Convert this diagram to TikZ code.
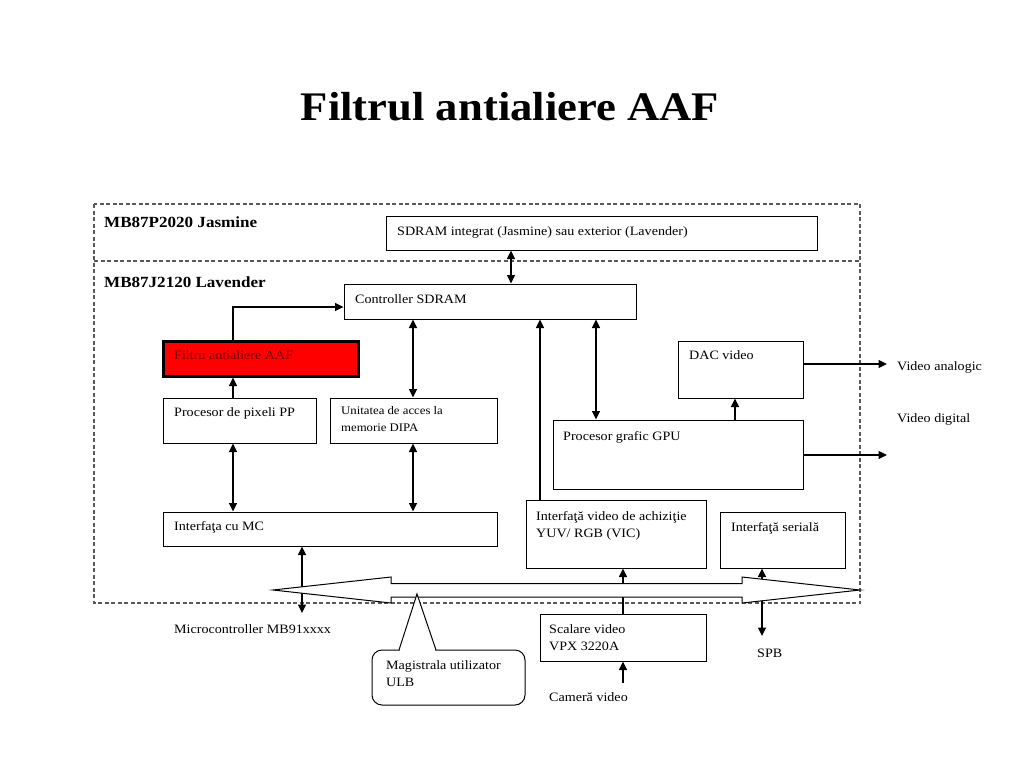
\documentclass[tikz,border=0pt]{standalone}
\usepackage{fontspec}
\setmainfont{Liberation Serif}[FakeStretch=1.1]
\usetikzlibrary{arrows.meta,fit}
\begin{document}
\begin{tikzpicture}[x=1pt,y=-1pt,
  blk/.style={draw, line width=1pt, inner sep=0pt, fill=white},
  lbl/.style={anchor=north west, inner sep=0pt, font=\fontsize{12.8}{17}\selectfont, align=left},
  lbls/.style={anchor=north west, inner sep=0pt, font=\fontsize{11.6}{17}\selectfont, align=left},
  hdr/.style={anchor=base west, inner sep=0pt, font=\fontsize{15.5}{18}\selectfont\bfseries},
  tipa/.tip={Triangle[length=8.5pt,width=8pt]},
  ar/.style={line width=1.4pt, -tipa},
  dar/.style={line width=1.4pt, tipa-tipa},
  zone/.style={draw=black!65, line width=1.2pt, dash pattern=on 4pt off 2.5pt}]
\useasboundingbox (0,0) rectangle (1024,768);

% title
\node[anchor=base, inner sep=0pt, font=\fontsize{40.6}{44}\selectfont\bfseries] (title) at (510,120) {Filtrul antialiere AAF};

% zones
\draw[zone] (94,204) rectangle (860,603);
\draw[zone] (94,261) -- (860,261);
\node[hdr] (jas) at (104,227) {MB87P2020 Jasmine};
\node[hdr] (lav) at (104,287) {MB87J2120 Lavender};

% blocks
\node[blk, fit={(386,216) (817,250)}] (sdram) {};
\node[blk, fit={(344,284) (636,319)}] (ctrl) {};
\node[draw, line width=3pt, inner sep=0pt, fill=red, fit={(163,341) (358,376)}] (aaf) {};
\node[blk, fit={(163,398) (316,443)}] (pp) {};
\node[blk, fit={(330,398) (497,443)}] (dipa) {};
\node[blk, fit={(163,512) (497,546)}] (mc) {};
\node[blk, fit={(678,341) (803,398)}] (dac) {};
\node[blk, fit={(553,420) (803,489)}] (gpu) {};
\node[blk, fit={(526,500) (706,568)}] (vic) {};
\node[blk, fit={(720,512) (845,568)}] (ser) {};
\node[blk, fit={(540,614) (706,661)}] (scal) {};

% block texts
\node[lbl] (tsdram) at (397,223) {\strut SDRAM integrat (Jasmine) sau exterior (Lavender)};
\node[lbl] (tctrl) at (355,291) {\strut Controller SDRAM};
\node[lbl, text={rgb,255:red,110;green,0;blue,0}] (taaf) at (174,347) {\strut Filtru antialiere AAF};
\node[lbl] (tpp) at (174,404) {\strut Procesor de pixeli PP};
\node[lbls] (tdipa) at (341,402) {\strut Unitatea de acces la\\memorie DIPA};
\node[lbl] (tmc) at (174,518) {\strut Interfaţa cu MC};
\node[lbl] (tdac) at (689,347) {\strut DAC video};
\node[lbl] (tgpu) at (563,428) {\strut Procesor grafic GPU};
\node[lbl] (tvic) at (536,508) {\strut Interfaţă video de achiziţie\\YUV/ RGB (VIC)};
\node[lbl] (tser) at (731,519) {\strut Interfaţă serială};
\node[lbl] (tscal) at (549,621) {\strut Scalare video\\VPX 3220A};

% free texts
\node[lbl] (mcu) at (174,621) {\strut Microcontroller MB91xxxx};
\node[lbl] (va) at (897,358) {\strut Video analogic};
\node[lbl] (vd) at (897,410) {\strut Video digital};
\node[lbl] (spb) at (757,645) {\strut SPB};
\node[lbl] (cam) at (549,689) {\strut Cameră video};

% column / row helpers
\coordinate (cS) at (511,0);
\coordinate (cA) at (233,0);
\coordinate (cB) at (413,0);
\coordinate (cC) at (540,0);
\coordinate (cD) at (596,0);
\coordinate (cE) at (735,0);
\coordinate (cF) at (302,0);
\coordinate (cG) at (623,0);
\coordinate (cH) at (762,0);
\coordinate (r307) at (0,307);
\coordinate (r364) at (0,364);
\coordinate (r455) at (0,455);
\coordinate (mcEnd) at (302,613);
\coordinate (vaEnd) at (887,364);
\coordinate (vdEnd) at (887,455);
\coordinate (camStart) at (623,683);
\coordinate (spbEnd) at (762,636);

% connectors
\draw[dar] (sdram.south -| cS) -- (ctrl.north -| cS);
\draw[ar] (aaf.north -| cA) |- (ctrl.west |- r307);
\draw[ar] (pp.north -| cA) -- (aaf.south -| cA);
\draw[dar] (ctrl.south -| cB) -- (dipa.north -| cB);
\draw[dar] (pp.south -| cA) -- (mc.north -| cA);
\draw[dar] (dipa.south -| cB) -- (mc.north -| cB);
\draw[dar] (mc.south -| cF) -- (mcEnd);
\draw[ar] (vic.north -| cC) -- (ctrl.south -| cC);
\draw[dar] (ctrl.south -| cD) -- (gpu.north -| cD);
\draw[ar] (gpu.north -| cE) -- (dac.south -| cE);
\draw[ar] (dac.east |- r364) -- (vaEnd);
\draw[ar] (gpu.east |- r455) -- (vdEnd);
\draw[ar] (scal.north -| cG) -- (vic.south -| cG);
\draw[ar] (camStart) -- (scal.south -| cG);
\draw[dar] (ser.south -| cH) -- (spbEnd);

% bus (double block arrow)
\draw[line width=1pt, fill=white] (273,590) -- (391,577) -- (391,583.5) -- (742,583.5) -- (742,577)
  -- (860,590) -- (742,603) -- (742,597) -- (391,597) -- (391,603) -- cycle;

% callout
\node[draw, line width=1pt, rounded corners=10pt, inner sep=0pt, fill=white, fit={(372,650) (525,705)}] (ulb) {};
\fill[white] (399.6,648) rectangle (435.4,652);
\draw[line width=1pt, fill=white] (399,650) -- (417,594) -- (436,650);
\node[lbl] (tulb) at (386,657) {\strut Magistrala utilizator\\ULB};
\end{tikzpicture}
\end{document}
